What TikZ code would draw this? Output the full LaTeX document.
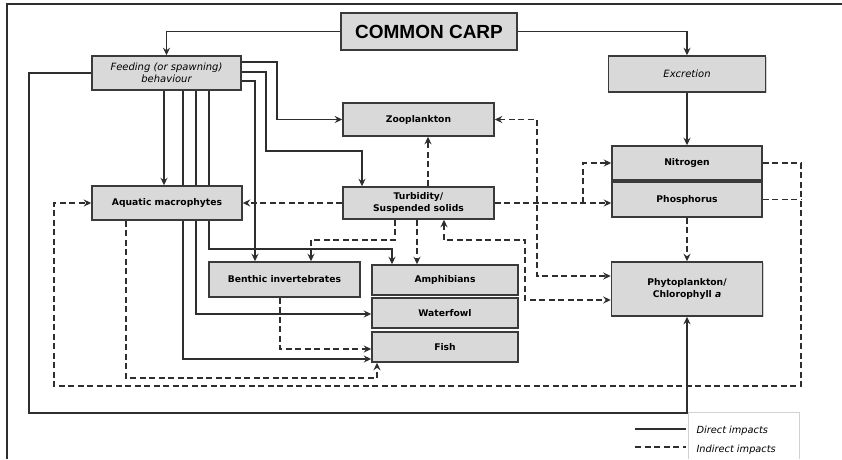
\documentclass[tikz,border=0pt]{standalone}
\usepackage{fontspec}
\setmainfont{DejaVu Sans}
\newfontfamily\carpfont{Liberation Sans}
\usetikzlibrary{arrows.meta,shadows,backgrounds}
\definecolor{boxfill}{HTML}{D9D9D9}
\definecolor{boxline}{HTML}{3A3A3A}
\definecolor{arrowc}{HTML}{2E2E2E}
\begin{document}
\begin{tikzpicture}[x=1pt,y=-1pt,
  box/.style={draw=boxline, line width=1.5pt, fill=boxfill, align=center, inner sep=0pt,
    font=\fontsize{9.2}{11.5}\selectfont\bfseries,
    drop shadow={shadow xshift=1.4pt, shadow yshift=-1.4pt, opacity=0.35}},
  itbox/.style={box, font=\fontsize{10}{12}\selectfont\itshape},
  direct/.style={draw=arrowc, line width=1.5pt, -{Stealth[length=7.5pt,width=7pt,inset=2.5pt]}},
  indirect/.style={direct, dash pattern=on 6pt off 3.5pt},
  twoway/.style={{Stealth[length=7.5pt,width=7pt,inset=2.5pt]}-{Stealth[length=7.5pt,width=7pt,inset=2.5pt]}},
  legtext/.style={anchor=west, font=\fontsize{9.8}{11}\selectfont\itshape}]
\useasboundingbox (0,0) rectangle (842,459);
\draw[draw=arrowc, line width=1.3pt] (7,459) -- (7,4) -- (842,4);

% boxes
\node (carp) [box, minimum width=176, minimum height=37, font=\carpfont\bfseries\fontsize{19}{22}\selectfont] at (429,31.5) {COMMON CARP};
\node (feed) [itbox, minimum width=149, minimum height=34] at (166.5,73) {Feeding (or spawning)\\behaviour};
\node (excr) [itbox, minimum width=157, minimum height=36] at (687,74) {Excretion};
\node (zoo) [box, minimum width=151, minimum height=33] at (418.5,119.5) {Zooplankton};
\node (turb) [box, minimum width=151, minimum height=32] at (418.5,203) {Turbidity/\\Suspended solids};
\node (macro) [box, minimum width=150, minimum height=34] at (167,203) {Aquatic macrophytes};
\node (nitro) [box, minimum width=150, minimum height=34] at (687,163) {Nitrogen};
\node (phos) [box, minimum width=150, minimum height=35] at (687,199.5) {Phosphorus};
\node (phyto) [box, minimum width=151, minimum height=54] at (687,289) {Phytoplankton/\\Chlorophyll \textit{a}};
\node (benth) [box, minimum width=151, minimum height=35] at (284.5,279.5) {Benthic invertebrates};
\node (amph) [box, minimum width=146, minimum height=30] at (445,280) {Amphibians};
\node (water) [box, minimum width=146, minimum height=30] at (445,313) {Waterfowl};
\node (fish) [box, minimum width=146, minimum height=30] at (445,347) {Fish};

\begin{scope}[on background layer]
% direct impacts
\draw[direct] (carp.west) -| (feed.north);
\draw[direct] (carp.east) -| (excr.north);
\draw[direct] (excr.south) -- (nitro.north);
\draw[direct] (feed.east|-0,62) -- (277,62) |- (zoo.west);
\draw[direct] (feed.east|-0,72) -- (266,72) |- (362,151) -- (362,0|-turb.north);
\draw[direct] (feed.east|-0,81) -| (255,0|-benth.north);
\draw[direct] (feed.south-|164,0) -- (164,0|-macro.north);
\draw[direct] (feed.south-|183,0) |- (fish.west|-0,359);
\draw[direct] (feed.south-|196,0) |- (water.west|-0,314);
\draw[direct] (feed.south-|209,0) |- (392,249) -- (392,0|-amph.north);
\draw[direct] (feed.west) -| (29,413) -| (phyto.south);
% indirect impacts
\draw[indirect] (turb.west) -- (macro.east);
\draw[indirect] (turb.north-|428,0) -- (428,0|-zoo.south);
\draw[indirect] (turb.east) -- (phos.west|-turb.east);
\draw[indirect] (583,0|-turb.east) |- (nitro.west);
\draw[indirect, twoway] (zoo.east) -| (537,276) -- (phyto.west|-0,276);
\draw[indirect] (turb.south-|395,0) |- (311,240) -- (311,0|-benth.north);
\draw[indirect] (turb.south-|417,0) -- (417,0|-amph.north);
\draw[indirect, twoway] (turb.south-|444,0) |- (525,240) |- (phyto.west|-0,300);
\draw[indirect] (nitro.east) -| (801,386) -| (54,0|-macro.west) -- (macro.west);
\draw[indirect, -] (phos.east) -- (801,0|-phos.east);
\draw[indirect] (macro.south-|126,0) |- (377,378) -- (377,0|-fish.south);
\draw[indirect] (benth.south-|280,0) |- (fish.west|-0,349);
\draw[indirect] (phos.south) -- (phyto.north);
\end{scope}

% legend
\draw[gray!35, line width=0.5pt] (688,459) |- (799,412) -- (799,459);
\node (legdir) [legtext] at (693,431) {Direct impacts};
\node (legind) [legtext] at (693,450) {Indirect impacts};
\coordinate (ldir) at (635,429);
\coordinate (lind) at (635,447);
\draw[draw=arrowc, line width=1.5pt] (ldir) -- ++(51,0);
\draw[draw=arrowc, line width=1.5pt, dash pattern=on 6pt off 3.5pt] (lind) -- ++(51,0);
\end{tikzpicture}
\end{document}
